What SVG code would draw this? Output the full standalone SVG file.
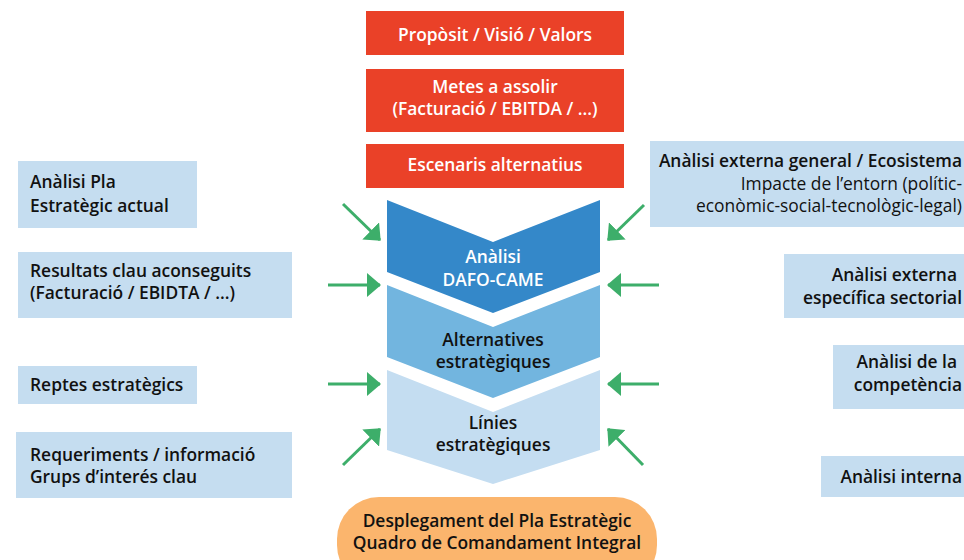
<svg xmlns="http://www.w3.org/2000/svg" width="964" height="560" viewBox="0 0 964 560">
<defs>
<marker id="ah" viewBox="0 0 14 24" refX="13" refY="12" markerWidth="14" markerHeight="24" markerUnits="userSpaceOnUse" orient="auto">
<path d="M0,0 L14,12 L0,24 z" fill="#3DAE6A"/>
</marker>
<style>
.t{font-family:"Open Sans","Liberation Sans",sans-serif;font-weight:600;font-size:17.4px;}
.red{fill:#EA4128;}
.box{fill:#C5DDF0;}
.w{fill:#ffffff;}
.k{fill:#111111;}
.c{text-anchor:middle;}
.e{text-anchor:end;}
.n{font-weight:400;}
.arr{stroke:#3DAE6A;stroke-width:3;fill:none;marker-end:url(#ah);}
</style>
</defs>
<rect width="964" height="560" fill="#ffffff"/>

<g id="proposit"><rect class="red" x="366" y="11" width="258" height="44"/><text class="t w c" x="495" y="41">Propòsit / Visió / Valors</text></g>
<g id="metes"><rect class="red" x="366" y="69" width="258" height="63"/><text class="t w c" x="495" y="93">Metes a assolir</text><text class="t w c" x="495" y="115">(Facturació / EBITDA / ...)</text></g>
<g id="escenaris"><rect class="red" x="366" y="144" width="258" height="44"/><text class="t w c" x="495" y="171">Escenaris alternatius</text></g>

<g id="dafo"><polygon points="387,200 493,242 600,200 600,272 493,313 387,272" fill="#3488C9"/><text class="t w c" x="493" y="263">Anàlisi</text><text class="t w c" x="493" y="286">DAFO-CAME</text></g>
<g id="alternatives"><polygon points="387,285 493,327 600,285 600,357 493,398 387,357" fill="#72B5DF"/><text class="t k c" x="493" y="346">Alternatives</text><text class="t k c" x="493" y="368">estratègiques</text></g>
<g id="linies"><polygon points="387,370 493,412 600,370 600,450 493,484 387,450" fill="#C4DDF1"/><text class="t k c" x="493" y="429">Línies</text><text class="t k c" x="493" y="451">estratègiques</text></g>

<g id="desplegament"><rect x="337" y="497" width="320" height="90" rx="42" fill="#FBB56D"/><text class="t k c" x="497" y="527">Desplegament del Pla Estratègic</text><text class="t k c" x="497" y="549">Quadro de Comandament Integral</text></g>

<g id="pla-actual"><rect class="box" x="18" y="161" width="179" height="67"/><text class="t k" x="30" y="188">Anàlisi Pla</text><text class="t k" x="30" y="212">Estratègic actual</text></g>
<g id="resultats"><rect class="box" x="18" y="252" width="274" height="66"/><text class="t k" x="30" y="277">Resultats clau aconseguits</text><text class="t k" x="30" y="299">(Facturació / EBIDTA / ...)</text></g>
<g id="reptes"><rect class="box" x="18" y="366" width="179" height="38"/><text class="t k" x="30" y="391">Reptes estratègics</text></g>
<g id="requeriments"><rect class="box" x="16" y="432" width="276" height="66"/><text class="t k" x="30" y="461">Requeriments / informació</text><text class="t k" x="30" y="483">Grups d’interés clau</text></g>

<g id="externa-general"><rect class="box" x="650" y="141" width="314" height="86"/><text class="t k e" x="962" y="167">Anàlisi externa general / Ecosistema</text><text class="t k e n" x="962" y="190">Impacte de l’entorn (polític-</text><text class="t k e n" x="962" y="212">econòmic-social-tecnològic-legal)</text></g>
<g id="externa-sectorial"><rect class="box" x="784" y="254" width="180" height="64"/><text class="t k e" x="957" y="281">Anàlisi externa</text><text class="t k e" x="962" y="304">específica sectorial</text></g>
<g id="competencia"><rect class="box" x="833" y="345" width="131" height="64"/><text class="t k e" x="957" y="368">Anàlisi de la</text><text class="t k e" x="962" y="391">competència</text></g>
<g id="interna"><rect class="box" x="821" y="456" width="143" height="41"/><text class="t k e" x="962" y="483">Anàlisi interna</text></g>

<g id="connectors">
<line class="arr" x1="343" y1="204" x2="380" y2="240"/>
<line class="arr" x1="328" y1="285" x2="380" y2="285"/>
<line class="arr" x1="328" y1="384" x2="380" y2="384"/>
<line class="arr" x1="343" y1="465" x2="380" y2="429"/>
<line class="arr" x1="644" y1="205" x2="608" y2="240"/>
<line class="arr" x1="659" y1="285" x2="608" y2="285"/>
<line class="arr" x1="659" y1="384" x2="608" y2="384"/>
<line class="arr" x1="643" y1="465" x2="608" y2="429"/>
</g>
</svg>
